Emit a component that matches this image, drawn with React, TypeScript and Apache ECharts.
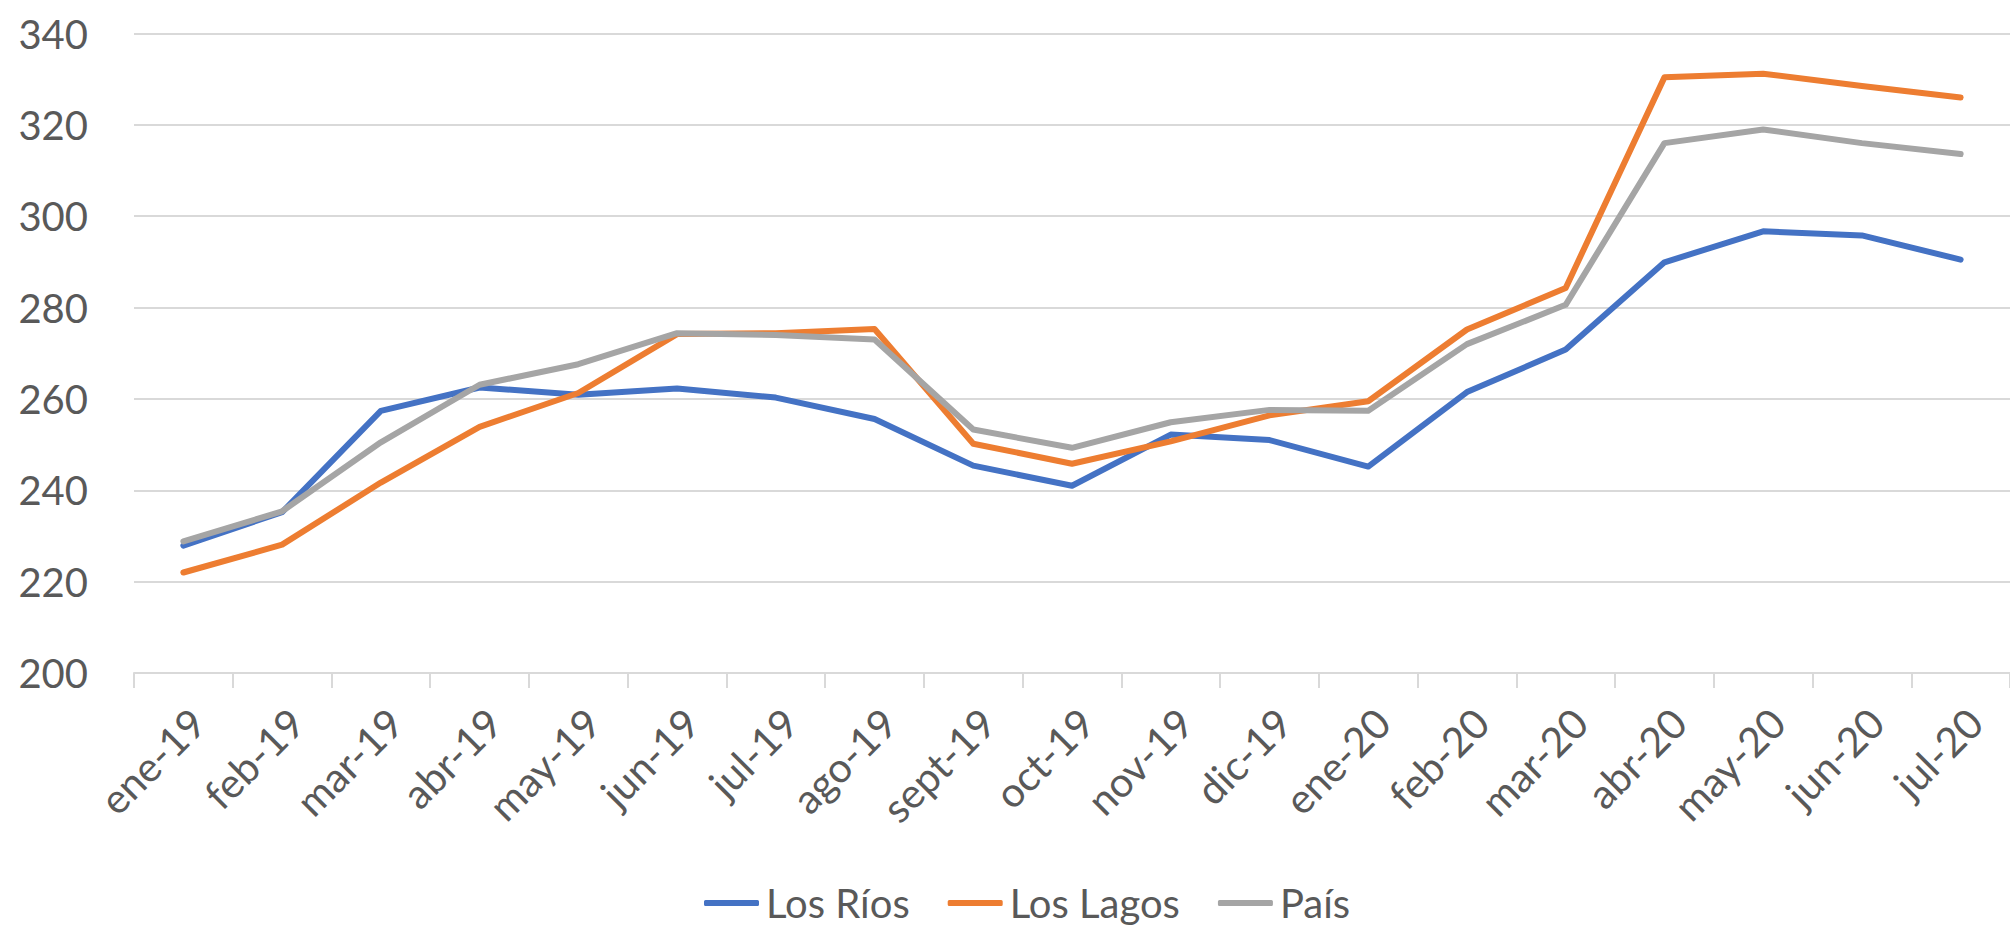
import React, { useEffect, useRef } from "react";
import * as echarts from "echarts";

const categories = [
  "ene-19", "feb-19", "mar-19", "abr-19", "may-19", "jun-19", "jul-19", "ago-19", "sept-19", "oct-19",
  "nov-19", "dic-19", "ene-20", "feb-20", "mar-20", "abr-20", "may-20", "jun-20", "jul-20",
];

const losRios = [227.9, 235.2, 257.4, 262.5, 260.9, 262.3, 260.3, 255.6, 245.4, 241.0, 252.2, 251.0, 245.2, 261.5, 270.8, 289.9, 296.7, 295.8, 290.5];
const losLagos = [222.0, 228.1, 241.7, 253.9, 261.3, 274.2, 274.4, 275.3, 250.2, 245.8, 250.7, 256.4, 259.5, 275.2, 284.3, 330.4, 331.2, 328.5, 326.0];
const pais = [228.8, 235.4, 250.5, 263.1, 267.6, 274.4, 274.0, 273.0, 253.3, 249.3, 254.9, 257.6, 257.4, 272.0, 280.6, 316.0, 319.0, 316.0, 313.6];

const seriesNames = ["Los Ríos", "Los Lagos", "País"];
const seriesColors = ["#4472C4", "#ED7D31", "#A5A5A5"];

const yMin = 200;
const yMax = 340;
const yStep = 20;

export default function App() {
  const ref = useRef<HTMLDivElement>(null);

  useEffect(() => {
    if (!ref.current) return;
    const chart = echarts.init(ref.current, null, { renderer: "svg" });
    const font = "Lato, 'Open Sans', sans-serif";
    const values = [losRios, losLagos, pais];
    chart.setOption({
      animation: false,
      backgroundColor: "#ffffff",
      textStyle: { fontFamily: font },
      grid: { left: 134, top: 33.5, width: 1896, height: 639.5, containLabel: false },
      legend: {
        left: 699,
        top: 878,
        icon: "roundRect",
        itemWidth: 55,
        itemHeight: 6,
        itemGap: 38,
        textStyle: { fontSize: 40, color: "#595959", fontFamily: font, padding: [0, 0, 0, 2] },
        data: seriesNames.map((name, i) => ({ name, itemStyle: { color: seriesColors[i] } })),
      },
      xAxis: {
        type: "category",
        data: categories,
        boundaryGap: true,
        axisLine: { show: true, lineStyle: { color: "#D9D9D9", width: 2 } },
        axisTick: { show: true, length: 15, lineStyle: { color: "#D9D9D9", width: 2 } },
        axisLabel: {
          rotate: 45,
          margin: 28,
          fontSize: 41,
          color: "#595959",
          fontFamily: font,
          align: "right",
          verticalAlign: "top",
          interval: 0,
        },
      },
      yAxis: {
        type: "value",
        min: yMin,
        max: yMax,
        interval: yStep,
        axisLine: { show: false },
        axisTick: { show: false },
        splitLine: { show: true, lineStyle: { color: "#D9D9D9", width: 2 } },
        axisLabel: { fontSize: 40, color: "#595959", margin: 46, fontFamily: font },
      },
      series: seriesNames.map((name, i) => ({
        name,
        type: "line",
        data: values[i],
        symbol: "none",
        showSymbol: false,
        smooth: false,
        color: seriesColors[i],
        lineStyle: { color: seriesColors[i], width: 6, cap: "round", join: "round" },
      })),
    });
    return () => chart.dispose();
  }, []);

  return (
    <div
      ref={ref}
      style={{ position: "fixed", left: 0, top: 0, width: 2010, height: 927, background: "#fff" }}
    />
  );
}
